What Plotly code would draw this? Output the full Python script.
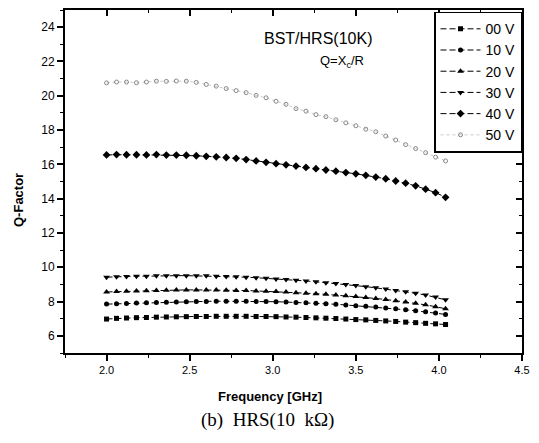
import plotly.graph_objects as go

freq = [round(2.0 + 0.06 * i, 2) for i in range(35)]

q_00v = [6.98, 7.02, 7.04, 7.06, 7.07, 7.09, 7.10, 7.11, 7.12, 7.13, 7.13, 7.14, 7.14, 7.14, 7.14,
         7.13, 7.13, 7.12, 7.10, 7.09, 7.07, 7.05, 7.03, 7.01, 6.98, 6.95, 6.93, 6.90, 6.87, 6.84,
         6.80, 6.77, 6.73, 6.70, 6.66]
q_10v = [7.85, 7.87, 7.89, 7.91, 7.93, 7.95, 7.96, 7.98, 7.99, 8.00, 8.01, 8.02, 8.02, 8.02, 8.02,
         8.01, 8.00, 7.99, 7.97, 7.95, 7.93, 7.90, 7.87, 7.84, 7.80, 7.76, 7.72, 7.68, 7.63, 7.58,
         7.52, 7.46, 7.40, 7.33, 7.25]
q_20v = [8.56, 8.58, 8.60, 8.62, 8.63, 8.65, 8.66, 8.67, 8.68, 8.68, 8.68, 8.67, 8.66, 8.65, 8.64,
         8.62, 8.60, 8.58, 8.55, 8.52, 8.49, 8.46, 8.42, 8.38, 8.34, 8.29, 8.24, 8.18, 8.12, 8.05,
         7.98, 7.90, 7.81, 7.70, 7.58]
q_30v = [9.42, 9.45, 9.46, 9.48, 9.48, 9.50, 9.50, 9.51, 9.51, 9.50, 9.50, 9.48, 9.46, 9.44, 9.42,
         9.39, 9.36, 9.32, 9.28, 9.24, 9.20, 9.15, 9.10, 9.05, 8.99, 8.93, 8.87, 8.80, 8.73, 8.65,
         8.57, 8.48, 8.38, 8.26, 8.10]
q_40v = [16.55, 16.57, 16.56, 16.56, 16.55, 16.57, 16.54, 16.54, 16.53, 16.50, 16.47, 16.44, 16.40,
         16.35, 16.28, 16.20, 16.12, 16.04, 15.97, 15.90, 15.82, 15.75, 15.67, 15.60, 15.52, 15.45,
         15.36, 15.26, 15.16, 15.03, 14.90, 14.75, 14.55, 14.35, 14.08]
q_50v = [20.75, 20.80, 20.80, 20.76, 20.80, 20.85, 20.84, 20.86, 20.85, 20.78, 20.66, 20.56, 20.42,
         20.30, 20.18, 20.02, 19.88, 19.68, 19.50, 19.25, 19.10, 18.90, 18.78, 18.60, 18.42, 18.25,
         18.05, 17.90, 17.65, 17.42, 17.15, 16.92, 16.68, 16.42, 16.20]

series_names = ["00 V", "10 V", "20 V", "30 V", "40 V", "50 V"]
series_vals = [q_00v, q_10v, q_20v, q_30v, q_40v, q_50v]
symbols = ["square", "circle", "triangle-up", "triangle-down", "diamond", "circle-open"]
sizes = [5, 5, 6, 6, 6, 4]

fig = go.Figure()
for name, vals, sym, sz in zip(series_names, series_vals, symbols, sizes):
    if name == "50 V":
        fig.add_trace(go.Scatter(x=freq, y=vals, name=name, mode="lines+markers",
                                 line=dict(color="#bbbbbb", width=0.8, dash="dot"),
                                 marker=dict(symbol=sym, size=sz, color="#888888",
                                             line=dict(width=1, color="#888888"))))
    else:
        fig.add_trace(go.Scatter(x=freq, y=vals, name=name, mode="lines+markers",
                                 line=dict(color="black", width=1, dash="6px,3px"),
                                 marker=dict(symbol=sym, size=sz, color="black")))

# invisible trace so that the top / right mirror axes get drawn
fig.add_trace(go.Scatter(x=freq, y=q_00v, xaxis="x2", yaxis="y2", mode="markers",
                         marker=dict(opacity=0), showlegend=False, hoverinfo="skip"))

axis_font = dict(family="Liberation Sans, Arial", color="black")
X_RANGE = [1.75, 4.5]
Y_RANGE = [5, 25]

fig.update_layout(
    width=539, height=443,
    margin=dict(l=65, r=17, t=10, b=90),
    paper_bgcolor="white", plot_bgcolor="white",
    font=dict(family="Liberation Sans, Arial", color="black"),
    showlegend=True,
    legend=dict(x=1, y=0.995, xanchor="right", yanchor="top",
                bordercolor="black", borderwidth=1.5, bgcolor="white",
                itemwidth=40,
                font=dict(size=14, family="Liberation Sans, Arial", color="black"),
                tracegroupgap=0),
    xaxis=dict(range=X_RANGE, dtick=0.5, tick0=0, tickformat=".1f",
               showgrid=False, zeroline=False, showline=True, linecolor="black", linewidth=2,
               ticks="outside", ticklen=6, tickwidth=1.5, tickcolor="black",
               ticklabeloverflow="allow",
               tickfont=dict(size=11, **axis_font),
               minor=dict(ticks="outside", dtick=0.25, ticklen=3, tickwidth=1.2, tickcolor="black")),
    yaxis=dict(range=Y_RANGE, dtick=2, tick0=0,
               showgrid=False, zeroline=False, showline=True, linecolor="black", linewidth=2,
               ticks="outside", ticklen=6, tickwidth=1.5, tickcolor="black",
               tickfont=dict(size=12, **axis_font),
               minor=dict(ticks="outside", dtick=1, ticklen=3, tickwidth=1.2, tickcolor="black")),
    xaxis2=dict(overlaying="x", side="top", range=X_RANGE, dtick=0.5, tick0=0,
                showgrid=False, zeroline=False, showline=True, linecolor="black", linewidth=2,
                ticks="inside", ticklen=6, tickwidth=1.5, tickcolor="black", showticklabels=False,
                minor=dict(ticks="inside", dtick=0.25, ticklen=3, tickwidth=1.2, tickcolor="black")),
    yaxis2=dict(overlaying="y", side="right", range=Y_RANGE, dtick=2, tick0=0,
                showgrid=False, zeroline=False, showline=True, linecolor="black", linewidth=2,
                ticks="inside", ticklen=6, tickwidth=1.5, tickcolor="black", showticklabels=False,
                minor=dict(ticks="inside", dtick=1, ticklen=3, tickwidth=1.2, tickcolor="black")),
)

plot_l, plot_r, plot_t, plot_b = 65, 522, 10, 353


def px_to_paper(px, py):
    return (px - plot_l) / (plot_r - plot_l), (plot_b - py) / (plot_b - plot_t)


annots = [
    ("BST/HRS(10K)", 262, 38.5, "left", 0, 16, "Liberation Sans, Arial"),
    ("Q=X<sub>c</sub>/R", 318, 61, "left", 0, 13, "Liberation Sans, Arial"),
    ("<b>Frequency [GHz]</b>", 270, 397, "center", 0, 13, "Liberation Sans, Arial"),
    ("<b>Q-Factor</b>", 18, 200, "center", -90, 13, "Liberation Sans, Arial"),
    ("(b)  HRS(10  kΩ)", 267, 420, "center", 0, 19, "Liberation Serif, Times New Roman"),
]
for text, px, py, xa, ang, size, fam in annots:
    ax, ay = px_to_paper(px, py)
    fig.add_annotation(text=text, x=ax, y=ay, xref="paper", yref="paper",
                       xanchor=xa, yanchor="middle", textangle=ang, showarrow=False,
                       font=dict(size=size, family=fam, color="black"))

fig.write_html("out.html", config={"displayModeBar": False},
               post_script="document.body.style.margin='0';")
